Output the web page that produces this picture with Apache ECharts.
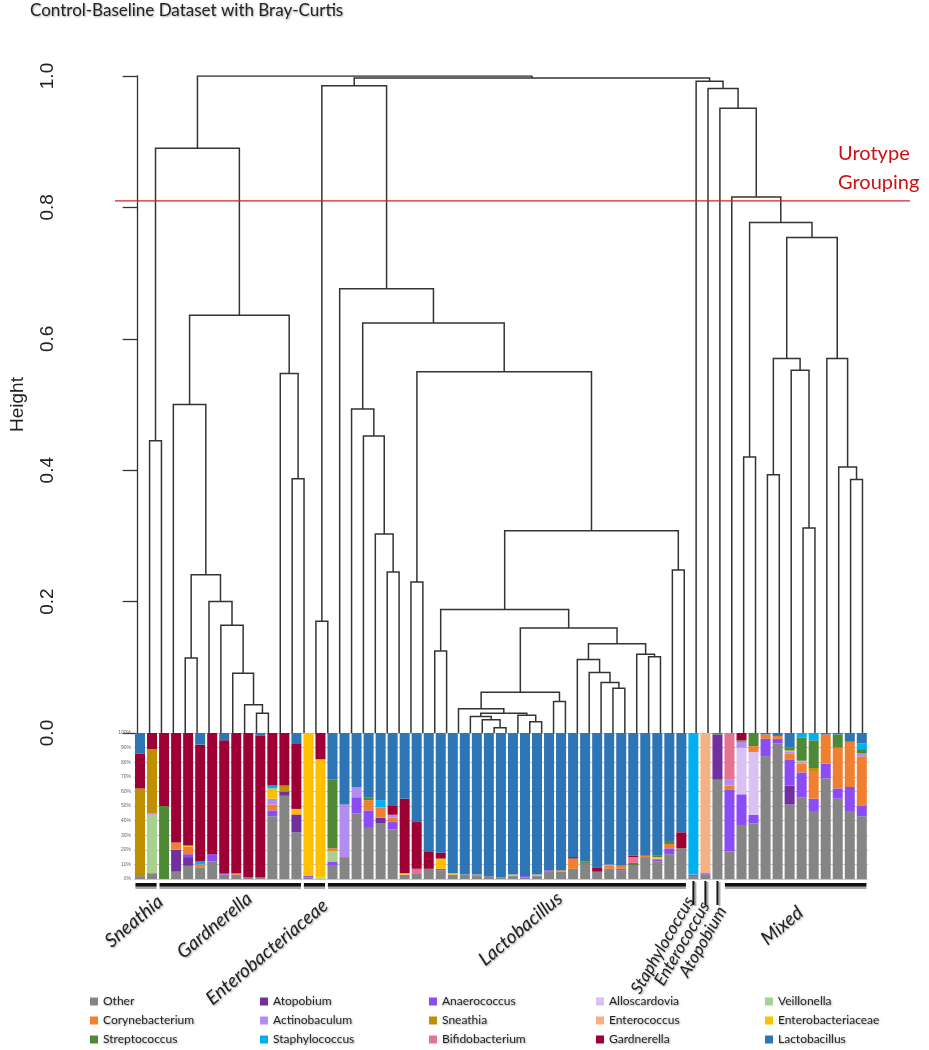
<!DOCTYPE html>
<html>
<head>
<meta charset="utf-8">
<script src="https://cdn.jsdelivr.net/npm/echarts@6/dist/echarts.min.js"></script>
<style>
  html, body { margin: 0; padding: 0; background: #fff; }
  #chart { width: 929px; height: 1050px; }
</style>
</head>
<body>
<div id="chart"></div>
<script>
// ---- dendrogram: hclust style merges, -n = leaf n, +k = merge row k, then height
const merges = [
  [-10, -11, 0.030], [-9, 1, 0.043], [-8, 2, 0.091], [-7, 3, 0.164], [-6, 4, 0.200],
  [-4, -5, 0.114], [6, 5, 0.241], [-3, 7, 0.500], [-13, -14, 0.387], [-12, 9, 0.547],
  [8, 10, 0.636], [-1, -2, 0.445], [12, 11, 0.890],
  [-15, -16, 0.170],
  [-21, -22, 0.245], [-20, 15, 0.303], [-19, 16, 0.452], [-18, 17, 0.493],
  [-23, -24, 0.230],
  [-30, -31, 0.008], [-29, 20, 0.020], [-28, 21, 0.025], [-33, -34, 0.017], [-32, 23, 0.027],
  [22, 24, 0.030], [-27, 25, 0.037], [-35, -36, 0.048], [26, 27, 0.062],
  [-40, -41, 0.068], [-39, 29, 0.077], [-38, 30, 0.092], [-37, 31, 0.112],
  [-43, -44, 0.116], [-42, 33, 0.120], [32, 34, 0.136], [28, 35, 0.160],
  [-25, -26, 0.125], [37, 36, 0.188], [-45, -46, 0.248], [38, 39, 0.308],
  [19, 40, 0.550], [18, 41, 0.624], [-17, 42, 0.676], [14, 43, 0.985],
  [-51, -52, 0.420], [-53, -54, 0.393], [-56, -57, 0.312], [-55, 47, 0.552], [46, 48, 0.570],
  [-60, -61, 0.386], [-59, 50, 0.405], [-58, 51, 0.570], [49, 52, 0.754], [45, 53, 0.777],
  [-50, 54, 0.816], [-49, 55, 0.951], [-48, 56, 0.981], [-47, 57, 0.992],
  [44, 58, 0.997], [13, 59, 1.000]
];
const cutHeight = 0.81;

// ---- relative abundance (%) of each sample, samples in dendrogram order
const samples = Array.from({ length: 61 }, (_, i) => 'S' + (i + 1));

const other = [
  2, 4, 0, 5, 9, 8, 12, 3, 3, 1,
  1, 43, 57, 32, 1, 0, 9, 15, 45, 35,
  38, 34, 3, 4, 7, 6, 3, 3, 2, 2,
  1, 2, 1, 2, 5, 5, 7, 11, 5, 7,
  6, 9, 15, 12, 17, 21, 2, 3, 68, 19,
  37, 38, 84, 93, 51, 56, 46, 69, 55, 46,
  43];
const atopobium = [
  0, 0, 0, 15, 6, 0, 0, 0, 0, 0,
  0, 0, 3, 12, 0, 0, 0, 0, 0, 0,
  4, 0, 0, 0, 0, 0, 0, 0, 0, 0,
  0, 0, 0, 0, 0, 0, 0, 0, 0, 0,
  0, 0, 0, 0, 0, 0, 0, 0, 31, 0,
  0, 0, 0, 0, 13, 0, 0, 0, 0, 0,
  0];
const anaerococcus = [
  0, 0, 0, 0, 2, 0, 5, 1, 0, 0,
  0, 4, 0, 0, 1, 0, 3, 0, 11, 12,
  0, 5, 0, 0, 0, 1, 0, 0, 0, 0,
  0, 0, 1, 0, 1, 0, 0, 0, 0, 0,
  1, 0, 0, 1, 4, 0, 1, 1, 0, 42,
  21, 6, 12, 3, 18, 17, 9, 10, 7, 17,
  7];
const alloscardovia = [
  0, 0, 0, 0, 0, 0, 0, 0, 0, 0,
  0, 0, 0, 0, 0, 0, 0, 0, 0, 0,
  0, 0, 0, 0, 0, 0, 0, 0, 0, 0,
  0, 0, 0, 0, 0, 0, 0, 0, 0, 0,
  0, 0, 0, 0, 0, 0, 0, 0, 0, 0,
  32, 43, 0, 0, 0, 0, 0, 0, 0, 0,
  0];
const veillonella = [
  0, 40, 0, 0, 0, 0, 0, 0, 0, 0,
  0, 0, 0, 0, 0, 1, 7, 0, 0, 0,
  0, 0, 0, 0, 0, 0, 0, 0, 0, 0,
  0, 0, 0, 0, 0, 0, 0, 0, 0, 0,
  0, 0, 0, 0, 0, 0, 0, 0, 0, 0,
  0, 0, 0, 0, 0, 0, 0, 0, 0, 0,
  0];
const corynebacterium = [
  0, 0, 0, 5, 5, 2, 0, 0, 1, 0,
  0, 4, 0, 1, 0, 0, 2, 0, 0, 7,
  7, 3, 0, 0, 0, 0, 0, 0, 1, 0,
  0, 0, 0, 0, 0, 1, 7, 0, 0, 2,
  2, 0, 1, 1, 3, 0, 0, 0, 0, 3,
  0, 4, 3, 2, 4, 6, 19, 20, 28, 31,
  34];
const actinobaculum = [
  0, 1, 0, 0, 0, 0, 0, 0, 0, 0,
  0, 4, 0, 0, 0, 0, 0, 36, 7, 0,
  0, 2, 0, 0, 0, 0, 0, 0, 0, 0,
  0, 0, 0, 0, 0, 0, 0, 0, 0, 1,
  0, 0, 0, 0, 0, 0, 0, 0, 0, 4,
  4, 0, 0, 0, 1, 1, 0, 0, 0, 0,
  2];
const sneathia = [
  60, 44, 0, 0, 0, 0, 0, 0, 0, 0,
  0, 0, 4, 0, 0, 0, 0, 0, 0, 0,
  0, 0, 0, 0, 0, 0, 0, 0, 0, 0,
  0, 0, 0, 0, 0, 0, 0, 0, 0, 0,
  0, 0, 0, 0, 0, 0, 0, 0, 0, 0,
  0, 0, 0, 0, 0, 0, 2, 0, 0, 0,
  0];
const enterococcus = [
  0, 0, 0, 0, 0, 0, 0, 0, 0, 0,
  0, 0, 0, 0, 0, 0, 0, 0, 0, 0,
  0, 0, 0, 0, 0, 0, 0, 0, 0, 0,
  0, 0, 0, 0, 0, 0, 0, 0, 0, 0,
  0, 0, 0, 0, 0, 0, 0, 96, 0, 0,
  0, 0, 0, 0, 0, 0, 0, 0, 0, 0,
  0];
const enterobacteriaceae = [
  0, 0, 0, 0, 1, 0, 0, 0, 0, 0,
  0, 7, 0, 3, 98, 81, 0, 0, 0, 0,
  0, 0, 1, 0, 0, 7, 1, 0, 0, 0,
  0, 1, 0, 1, 0, 0, 0, 0, 0, 0,
  0, 0, 0, 1, 0, 0, 0, 0, 0, 0,
  0, 0, 0, 0, 1, 1, 0, 0, 0, 0,
  0];
const streptococcus = [
  0, 0, 50, 0, 0, 0, 0, 0, 0, 0,
  0, 0, 0, 0, 0, 0, 47, 0, 0, 2,
  0, 0, 0, 0, 0, 0, 0, 0, 0, 0,
  0, 0, 0, 0, 0, 0, 0, 1, 0, 0,
  0, 2, 0, 1, 2, 0, 0, 0, 1, 0,
  1, 9, 0, 0, 2, 16, 19, 0, 9, 0,
  3];
const staphylococcus = [
  0, 0, 0, 0, 0, 2, 0, 0, 0, 0,
  0, 2, 0, 0, 0, 0, 0, 0, 0, 0,
  5, 0, 0, 0, 0, 0, 0, 0, 0, 0,
  0, 0, 0, 0, 0, 0, 0, 0, 0, 0,
  0, 0, 0, 0, 0, 0, 97, 0, 0, 0,
  0, 0, 0, 0, 0, 3, 5, 0, 0, 0,
  4];
const bifidobacterium = [
  0, 0, 0, 0, 0, 0, 0, 0, 0, 0,
  0, 0, 0, 0, 0, 0, 0, 0, 0, 0,
  0, 0, 0, 3, 0, 0, 0, 0, 0, 0,
  0, 0, 0, 0, 0, 0, 0, 0, 0, 0,
  0, 4, 0, 0, 0, 0, 0, 0, 0, 32,
  0, 0, 0, 0, 0, 0, 0, 0, 0, 0,
  0];
const gardnerella = [
  24, 11, 50, 75, 77, 80, 83, 91, 96, 99,
  97, 36, 36, 45, 0, 18, 0, 0, 0, 0,
  0, 6, 51, 32, 12, 4, 0, 0, 0, 0,
  0, 0, 0, 0, 0, 0, 1, 0, 3, 0,
  0, 1, 0, 0, 0, 11, 0, 0, 0, 0,
  5, 0, 0, 0, 0, 0, 0, 0, 0, 0,
  0];
const lactobacillus = [
  14, 0, 0, 0, 0, 8, 0, 5, 0, 0,
  2, 0, 0, 7, 0, 0, 32, 49, 37, 44,
  46, 50, 45, 61, 81, 82, 96, 97, 97, 98,
  99, 97, 98, 97, 94, 94, 85, 88, 92, 90,
  91, 84, 84, 84, 74, 68, 0, 0, 0, 0,
  0, 0, 1, 2, 10, 0, 0, 1, 1, 6,
  7];

// stacking order, bottom to top (legend reads the same order row by row)
const genera = ['Other', 'Atopobium', 'Anaerococcus', 'Alloscardovia', 'Veillonella',
  'Corynebacterium', 'Actinobaculum', 'Sneathia', 'Enterococcus', 'Enterobacteriaceae',
  'Streptococcus', 'Staphylococcus', 'Bifidobacterium', 'Gardnerella', 'Lactobacillus'];
const generaValues = [other, atopobium, anaerococcus, alloscardovia, veillonella,
  corynebacterium, actinobaculum, sneathia, enterococcus, enterobacteriaceae,
  streptococcus, staphylococcus, bifidobacterium, gardnerella, lactobacillus];
const generaColors = ['#858585', '#7030A0', '#8B4CF6', '#D9C1F2', '#A9D18E',
  '#F07F30', '#B28CF0', '#BE9000', '#F4B183', '#FFC000',
  '#4E8A35', '#00B0F0', '#E57291', '#9E0036', '#2E75B6'];

// urotype groups (first / last sample, 1-based)
const groupNames = ['Sneathia', 'Gardnerella', 'Enterobacteriaceae', 'Lactobacillus',
  'Staphylococcus', 'Enterococcus', 'Atopobium', 'Mixed'];
const groupFirst = [1, 3, 15, 17, 47, 48, 49, 50];
const groupLast = [2, 14, 16, 46, 47, 48, 49, 61];

// label placement for the group names (text end, in sample units / px below bars)
const labelAt = [2.7, 10.1, 16.4, 35.9, 46.7, 48.0, 49.4, 55.9];
const labelDrop = [20, 17, 24, 17, 19, 24, 29, 31];
const labelAngle = [40, 40, 40, 40, 60, 60, 60, 40];
const labelSize = [19, 19, 19, 19, 17, 17, 17, 19];

// legend columns (left edge of each column)
const legendCols = [90, 260, 429, 596, 765];

// ---- build dendrogram segments from the merges
const nodeX = [], nodeH = [];
const segs = [];
const pos = ref => ref < 0 ? [-ref, 0] : [nodeX[ref - 1], nodeH[ref - 1]];
merges.forEach(([a, b, h]) => {
  const pa = pos(a), pb = pos(b);
  segs.push({ coords: [[pa[0], pa[1]], [pa[0], h], [pb[0], h], [pb[0], pb[1]]] });
  nodeX.push((pa[0] + pb[0]) / 2);
  nodeH.push(h);
});

const xMin = -1.91, xMax = 65;
const shadow = { textShadowColor: 'rgba(0,0,0,0.35)', textShadowBlur: 2, textShadowOffsetX: 1, textShadowOffsetY: 1 };
const legendText = Object.assign({ fontFamily: 'Lato', fontSize: 12, lineHeight: 15, color: '#222' }, shadow);

const myChart = echarts.init(document.getElementById('chart'), null, { renderer: 'canvas' });

const barSeries = genera.map((g, i) => ({
  name: g,
  type: 'bar',
  stack: 'all',
  xAxisIndex: 1,
  yAxisIndex: 1,
  barWidth: 10,
  itemStyle: { color: generaColors[i] },
  data: generaValues[i]
}));

const option = {
  animation: false,
  backgroundColor: '#fff',
  grid: [
    { left: 105, right: 19, top: 76, bottom: 317 },
    { left: 134, right: 61.17, top: 733, bottom: 171 }
  ],
  xAxis: [
    { gridIndex: 0, type: 'value', min: xMin, max: xMax, show: false },
    { gridIndex: 1, type: 'category', data: samples, show: false }
  ],
  yAxis: [
    {
      gridIndex: 0, type: 'value', min: 0, max: 1, interval: 0.2,
      name: 'Height', nameLocation: 'middle', nameGap: 88, nameRotate: 90,
      nameTextStyle: { fontFamily: 'Liberation Sans', fontSize: 19, color: '#222' },
      axisLine: { show: true, lineStyle: { color: '#333', width: 1.3 } },
      axisTick: { show: true, length: 15, lineStyle: { color: '#333', width: 1.3 } },
      axisLabel: {
        rotate: 90, margin: 58, fontFamily: 'Liberation Sans', fontSize: 19, color: '#222',
        formatter: v => v.toFixed(1)
      },
      splitLine: { show: false }
    },
    {
      gridIndex: 1, type: 'value', min: 0, max: 100, interval: 10,
      axisLine: { show: false }, axisTick: { show: false },
      axisLabel: { fontSize: 5, color: '#666', margin: 3, formatter: '{value}%' },
      splitLine: { show: true, lineStyle: { color: '#c8c8c8', width: 1 } }
    }
  ],
  legend: legendCols.map((x, c) => ({
    data: [genera[c], genera[c + 5], genera[c + 10]],
    left: x, top: 994, padding: 0,
    orient: 'vertical', icon: 'rect', itemWidth: 8, itemHeight: 8, itemGap: 4,
    selectedMode: false, textStyle: legendText
  })),
  series: [
    {
      type: 'lines', coordinateSystem: 'cartesian2d', xAxisIndex: 0, yAxisIndex: 0,
      polyline: true, silent: true, z: 3,
      lineStyle: { color: '#333', width: 1.5, opacity: 1 },
      data: segs
    },
    {
      type: 'line', xAxisIndex: 0, yAxisIndex: 0, silent: true, z: 4,
      showSymbol: false, symbol: 'none',
      itemStyle: { color: '#d42424' },
      lineStyle: { color: '#d42424', width: 1.2 },
      data: [[xMin, cutHeight], [xMax, cutHeight]]
    },
    ...barSeries,
    {
      type: 'custom', xAxisIndex: 1, yAxisIndex: 1, clip: false, silent: true, z: 5,
      data: groupNames.map((n, i) => [groupFirst[i] - 1, groupLast[i] - 1]),
      renderItem: (params, api) => {
        const i = params.dataIndex;
        const p0 = api.coord([api.value(0), 0]);
        const p1 = api.coord([api.value(1), 0]);
        const band = api.size([1, 0])[0];
        const y = p0[1] + 5;
        const kids = [];
        if (groupFirst[i] === groupLast[i]) {
          kids.push({ type: 'rect', shape: { x: p0[0] + 1, y: y - 2, width: 2, height: 24 }, style: { fill: '#aaa' } });
          kids.push({ type: 'rect', shape: { x: p0[0] - 1, y: y - 3, width: 2, height: 24 }, style: { fill: '#111' } });
        } else {
          const x0 = p0[0] - band * 0.38, x1 = p1[0] + band * 0.38;
          kids.push({ type: 'rect', shape: { x: x0, y: y + 2, width: x1 - x0, height: 3 }, style: { fill: '#a8a8a8' } });
          kids.push({ type: 'rect', shape: { x: x0, y: y - 1, width: x1 - x0, height: 3.5 }, style: { fill: '#111' } });
        }
        const lx = p0[0] + (labelAt[i] - groupFirst[i]) * band;
        kids.push({
          type: 'text', x: lx, y: p0[1] + labelDrop[i], rotation: labelAngle[i] * Math.PI / 180,
          style: Object.assign({
            text: groupNames[i], fontFamily: 'Lato', fontStyle: 'italic', fontSize: labelSize[i],
            fill: '#222', align: 'right', verticalAlign: 'middle'
          }, shadow)
        });
        return { type: 'group', children: kids };
      }
    }
  ],
  graphic: [
    {
      type: 'text', left: 30, top: 2,
      style: Object.assign({ text: 'Control-Baseline Dataset with Bray-Curtis', fontFamily: 'Lato', fontSize: 17, fill: '#222' }, shadow)
    },
    {
      type: 'text', left: 838, top: 144,
      style: { text: 'Urotype', fontFamily: 'Lato', fontSize: 20, fill: '#cc1111' }
    },
    {
      type: 'text', left: 838, top: 173,
      style: { text: 'Grouping', fontFamily: 'Lato', fontSize: 20, fill: '#cc1111' }
    }
  ]
};

myChart.setOption(option);
</script>
</body>
</html>
